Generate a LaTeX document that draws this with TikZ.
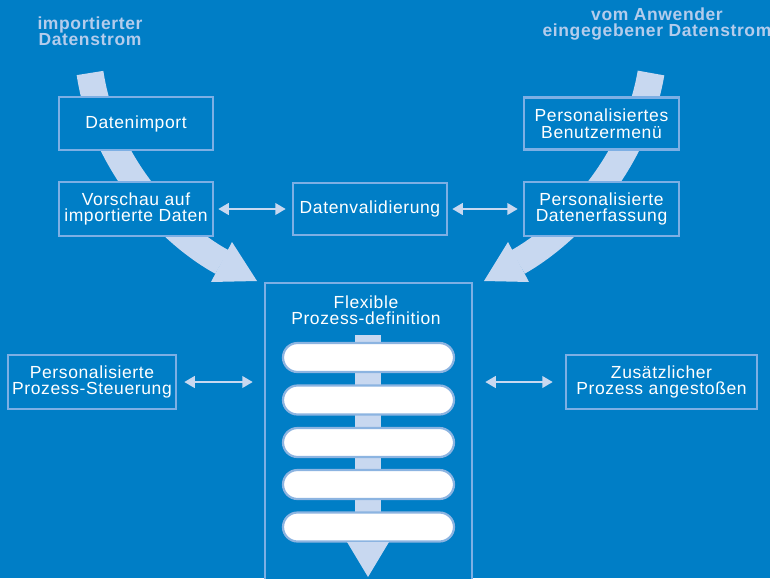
\documentclass[tikz,border=0pt]{standalone}
\usepackage{fontspec}
\setmainfont{Liberation Sans}[LetterSpace=3.5]
\usetikzlibrary{arrows.meta}
\definecolor{bg}{RGB}{0,126,198}
\definecolor{pale}{RGB}{200,216,240}
\definecolor{edge}{RGB}{125,175,228}
\definecolor{titlec}{RGB}{180,204,236}
\definecolor{pilledge}{RGB}{140,180,225}
\newcommand\bodyfnt{\fontsize{17.5}{16.5}\selectfont}
\newcommand\titlefnt{\fontsize{17.5}{16.5}\selectfont\bfseries}
\begin{document}
\begin{tikzpicture}[x=1pt,y=-1pt,
  box/.style={draw=edge, line width=2.5pt, fill=bg, text=white, align=center, inner sep=0pt, font=\bodyfnt},
  ttl/.style={text=titlec, align=center, inner sep=0pt, font=\titlefnt},
  pill/.style={draw=pilledge, line width=2.2pt, fill=white, minimum width=171pt, minimum height=29pt, rounded corners=14.5pt, inner sep=0pt},
  flow/.style={draw=pale, line width=27pt},
  dbl/.style={draw=pale, line width=2.5pt, {Triangle[length=10.5pt,width=11.5pt]}-{Triangle[length=10.5pt,width=11.5pt]}}]
\useasboundingbox (0,0) rectangle (770,578);
\clip (0,0) rectangle (770,578);
\fill[bg] (0,0) rectangle (770,578);

% titles
\node[ttl] (t1) at (90,31) {importierter\\Datenstrom};
\node[ttl] (t2) at (657,24) {vom Anwender\\eingegebener Datenstrom};

% big flow arrows
\coordinate (la) at (90,73);
\coordinate (lb) at (222,262);
\draw[flow] (la) .. controls (103.5,163) and (169,233) .. (lb);
\fill[pale] (211,282) -- (232,242) -- (257,281) -- cycle;
\coordinate (ra) at (651,73);
\coordinate (rb) at (518,262);
\draw[flow] (ra) .. controls (635.7,163) and (570,232.6) .. (rb);
\fill[pale] (529,282) -- (508,242) -- (484,281) -- cycle;

% boxes
\node[box, minimum width=154pt, minimum height=53pt] (imp) at (136,123.5) {Datenimport};
\node[box, minimum width=154pt, minimum height=54pt] (vor) at (136,209) {Vorschau auf\\importierte Daten};
\node[box, minimum width=154pt, minimum height=52pt] (val) at (370,209) {Datenvalidierung};
\node[box, minimum width=155pt, minimum height=52pt] (menu) at (601.5,123.5) {Personalisiertes\\Benutzermenü};
\node[box, minimum width=155pt, minimum height=54pt] (erf) at (601.5,209) {Personalisierte\\Datenerfassung};
\node[box, minimum width=168pt, minimum height=54pt] (steu) at (92,382) {Personalisierte\\Prozess-Steuerung};
\node[box, minimum width=191pt, minimum height=54pt] (zus) at (661.5,382) {Zusätzlicher\\Prozess angestoßen};
\node[box, minimum width=207pt, minimum height=316pt] (flex) at (368.5,441) {};
\node[text=white, align=center, inner sep=0pt, font=\bodyfnt] (ft) at (366,310) {Flexible\\Prozess-definition};

% process bar, steps and arrow
\fill[pale] (355,335) rectangle (381,545);
\foreach \yy [count=\i] in {357.5,400,442.5,484.5,527}
  \node[pill] (p\i) at (368.5,\yy) {};
\fill[pale] (347,542) -- (389,542) -- (368,577) -- cycle;

% double arrows
\draw[dbl, shorten <=4pt, shorten >=6pt] (vor.east) -- (val.west);
\draw[dbl, shorten <=4pt, shorten >=5pt] (val.east) -- (erf.west);
\draw[dbl, shorten <=7pt, shorten >=11pt] (steu.east) -- (steu.east -| flex.west);
\draw[dbl, shorten <=12pt, shorten >=12pt] (zus.west -| flex.east) -- (zus.west);
\end{tikzpicture}
\end{document}
